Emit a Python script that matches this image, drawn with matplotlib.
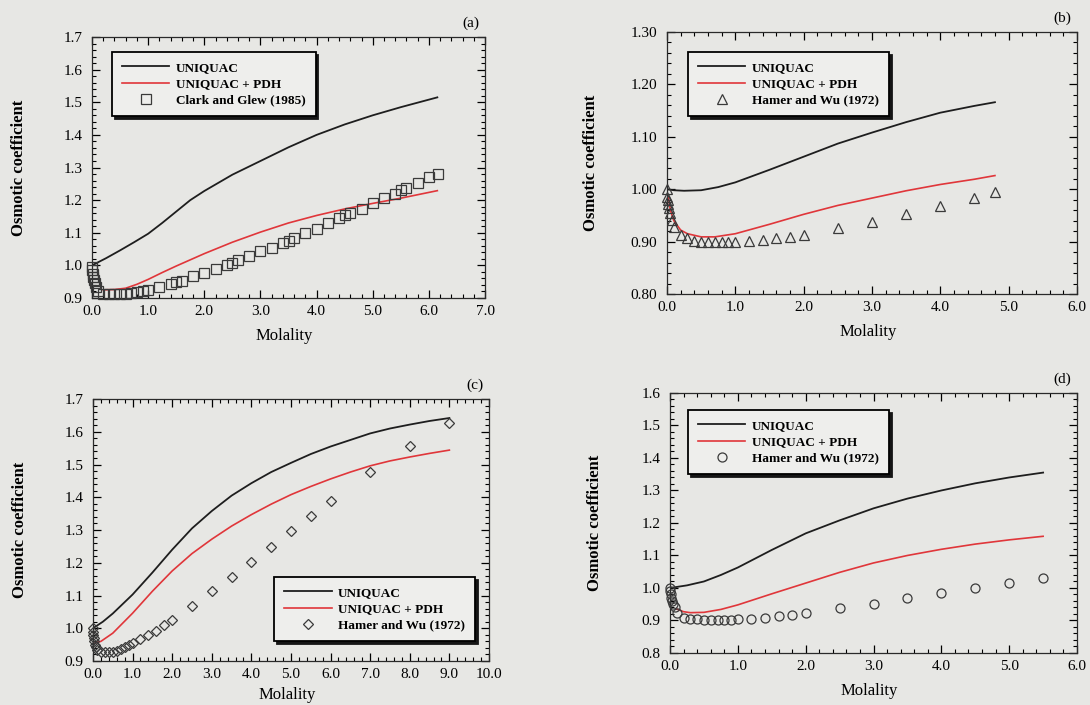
import matplotlib
matplotlib.use("Agg")
import matplotlib.pyplot as plt
from matplotlib.ticker import MultipleLocator, FormatStrFormatter


# =========================
# DATA
# =========================
# (a) Clark and Glew (1985)
a_model_m = [0.0, 0.25, 0.5, 0.75, 1.0, 1.25, 1.5, 1.75, 2.0, 2.5, 3.0, 3.5, 4.0, 4.5, 5.0, 5.5, 6.15]
a_uniquac = [1.0, 1.022, 1.046, 1.071, 1.097, 1.13, 1.165, 1.2, 1.228, 1.278, 1.32, 1.362, 1.40, 1.432, 1.46, 1.485, 1.515]
a_pdh_m = [0.2, 0.4, 0.6, 0.8, 1.0, 1.25, 1.5, 2.0, 2.5, 3.0, 3.5, 4.0, 4.5, 5.0, 5.5, 6.15]
a_pdh = [0.925, 0.926, 0.93, 0.942, 0.957, 0.978, 0.998, 1.036, 1.071, 1.102, 1.13, 1.153, 1.173, 1.19, 1.206, 1.229]
a_exp_m = [0.001, 0.005, 0.01, 0.02, 0.03, 0.05, 0.07, 0.1, 0.2, 0.3, 0.4, 0.5, 0.6, 0.7, 0.8,
           0.9, 1.0, 1.2, 1.4, 1.5, 1.6, 1.8, 2.0, 2.2, 2.4, 2.5, 2.6, 2.8, 3.0, 3.2, 3.4,
           3.5, 3.6, 3.8, 4.0, 4.2, 4.4, 4.5, 4.6, 4.8, 5.0, 5.2, 5.4, 5.5, 5.6, 5.8, 6.0, 6.17]
a_exp = [0.995, 0.985, 0.975, 0.965, 0.955, 0.945, 0.935, 0.923, 0.913, 0.912, 0.912, 0.912, 0.913, 0.915, 0.918,
         0.921, 0.926, 0.933, 0.943, 0.948, 0.953, 0.966, 0.977, 0.989, 1.0, 1.008, 1.015, 1.028, 1.043, 1.054, 1.068,
         1.074, 1.085, 1.10, 1.113, 1.129, 1.145, 1.154, 1.162, 1.174, 1.192, 1.207, 1.22, 1.23, 1.238, 1.254, 1.272, 1.28]

# (b) Hamer and Wu (1972), triangles
b_model_m = [0.0, 0.1, 0.25, 0.5, 0.75, 1.0, 1.5, 2.0, 2.5, 3.0, 3.5, 4.0, 4.5, 4.8]
b_uniquac = [1.0, 0.998, 0.997, 0.998, 1.004, 1.013, 1.037, 1.062, 1.087, 1.108, 1.128, 1.146, 1.159, 1.166]
b_pdh_m = [0.02, 0.05, 0.1, 0.2, 0.3, 0.5, 0.7, 1.0, 1.5, 2.0, 2.5, 3.0, 3.5, 4.0, 4.5, 4.8]
b_pdh = [0.985, 0.96, 0.94, 0.922, 0.915, 0.909, 0.909, 0.915, 0.933, 0.952, 0.969, 0.983, 0.997, 1.009, 1.019, 1.026]
b_exp_m = [0.001, 0.005, 0.01, 0.02, 0.03, 0.05, 0.07, 0.1, 0.2, 0.3, 0.4, 0.5, 0.6, 0.7, 0.8, 0.9, 1.0,
           1.2, 1.4, 1.6, 1.8, 2.0, 2.5, 3.0, 3.5, 4.0, 4.5, 4.8]
b_exp = [1.0, 0.986, 0.98, 0.972, 0.964, 0.954, 0.941, 0.928, 0.913, 0.906, 0.902, 0.90, 0.899, 0.899, 0.899, 0.899, 0.899,
         0.901, 0.903, 0.906, 0.909, 0.912, 0.925, 0.938, 0.952, 0.967, 0.983, 0.994]

# (c) Hamer and Wu (1972), diamonds
c_model_m = [0.0, 0.25, 0.5, 1.0, 1.5, 2.0, 2.5, 3.0, 3.5, 4.0, 4.5, 5.0, 5.5, 6.0, 6.5, 7.0, 7.5, 8.0, 8.5, 9.0]
c_uniquac = [1.0, 1.02, 1.045, 1.103, 1.17, 1.24, 1.305, 1.358, 1.405, 1.443, 1.477, 1.505, 1.532, 1.555,
             1.575, 1.595, 1.61, 1.622, 1.633, 1.642]
c_pdh_m = [0.05, 0.2, 0.5, 1.0, 1.5, 2.0, 2.5, 3.0, 3.5, 4.0, 4.5, 5.0, 5.5, 6.0, 6.5, 7.0, 7.5, 8.0, 8.5, 9.0]
c_pdh = [0.955, 0.96, 0.985, 1.046, 1.113, 1.175, 1.228, 1.272, 1.312, 1.347, 1.379, 1.408, 1.433, 1.456,
         1.477, 1.496, 1.511, 1.523, 1.534, 1.544]
c_exp_m = [0.001, 0.005, 0.01, 0.02, 0.03, 0.05, 0.07, 0.1, 0.2, 0.3, 0.4, 0.5, 0.6, 0.7, 0.8, 0.9, 1.0,
           1.2, 1.4, 1.6, 1.8, 2.0, 2.5, 3.0, 3.5, 4.0, 4.5, 5.0, 5.5, 6.0, 7.0, 8.0, 9.0]
c_exp = [1.0, 0.99, 0.98, 0.97, 0.96, 0.95, 0.942, 0.935, 0.928, 0.926, 0.926, 0.928, 0.932, 0.937, 0.942, 0.948, 0.955,
         0.967, 0.98, 0.993, 1.01, 1.025, 1.068, 1.113, 1.158, 1.203, 1.249, 1.297, 1.343, 1.39, 1.477, 1.556, 1.627]

# (d) Hamer and Wu (1972), circles
d_model_m = [0.0, 0.25, 0.5, 0.75, 1.0, 1.5, 2.0, 2.5, 3.0, 3.5, 4.0, 4.5, 5.0, 5.5]
d_uniquac = [1.0, 1.008, 1.02, 1.04, 1.063, 1.117, 1.168, 1.208, 1.245, 1.275, 1.30, 1.322, 1.34, 1.355]
d_pdh_m = [0.1, 0.2, 0.3, 0.5, 0.75, 1.0, 1.5, 2.0, 2.5, 3.0, 3.5, 4.0, 4.5, 5.0, 5.5]
d_pdh = [0.935, 0.927, 0.924, 0.925, 0.934, 0.948, 0.982, 1.015, 1.048, 1.077, 1.10, 1.119, 1.135, 1.148, 1.159]
d_exp_m = [0.001, 0.005, 0.01, 0.02, 0.03, 0.05, 0.07, 0.1, 0.2, 0.3, 0.4, 0.5, 0.6, 0.7, 0.8, 0.9, 1.0,
           1.2, 1.4, 1.6, 1.8, 2.0, 2.5, 3.0, 3.5, 4.0, 4.5, 5.0, 5.5]
d_exp = [1.0, 0.99, 0.98, 0.97, 0.96, 0.95, 0.94, 0.924, 0.908, 0.905, 0.903, 0.902, 0.901, 0.901, 0.901, 0.902, 0.903,
         0.906, 0.908, 0.913, 0.918, 0.924, 0.937, 0.952, 0.97, 0.985, 1.0, 1.015, 1.031]

BG = '#e7e7e4'
BLACK = '#1e1e1e'
RED = '#e0363a'

plt.rcParams['font.family'] = ['Liberation Serif', 'DejaVu Serif']


# =========================
# ONE PANEL
# =========================
def draw_panel(ax, tag, model_m, uniquac, pdh_m, pdh, exp_m, exp, marker, ms, exp_label,
               xlim, xmajor, ylim, ymajor, yfmt, leg_loc, leg_anchor, xlab_y=-0.115):
    ax.set_facecolor(BG)

    ax.plot(model_m, uniquac, color=BLACK, lw=1.3, label='UNIQUAC')
    ax.plot(pdh_m, pdh, color=RED, lw=1.2, label='UNIQUAC + PDH')
    ax.plot(exp_m, exp, ls='none', marker=marker, ms=ms, mfc='none',
            mec='#3a3a3a', mew=0.9, label=exp_label, clip_on=False, zorder=3)

    ax.set_xlim(*xlim)
    ax.set_ylim(*ylim)
    ax.xaxis.set_major_locator(MultipleLocator(xmajor))
    ax.xaxis.set_minor_locator(MultipleLocator(xmajor / 5))
    ax.yaxis.set_major_locator(MultipleLocator(ymajor))
    ax.yaxis.set_minor_locator(MultipleLocator(ymajor / 5))
    ax.xaxis.set_major_formatter(FormatStrFormatter('%.1f'))
    ax.yaxis.set_major_formatter(FormatStrFormatter(yfmt))

    ax.tick_params(which='both', direction='in', top=True, right=True, labelsize=11)
    ax.tick_params(which='major', length=6, width=0.9)
    ax.tick_params(which='minor', length=3, width=0.8)
    ax.tick_params(axis='x', pad=5)
    ax.tick_params(axis='y', pad=7)
    for s in ax.spines.values():
        s.set_linewidth(0.9)
        s.set_color('#2a2a2a')

    ax.set_xlabel('Molality', fontsize=12)
    ax.set_ylabel('Osmotic coefficient', fontsize=12, fontweight='bold')
    ax.xaxis.set_label_coords(0.49, xlab_y)
    ax.yaxis.set_label_coords(-0.165, 0.5)

    ax.text(0.985, 1.025, tag, transform=ax.transAxes, ha='right', va='bottom', fontsize=11)

    leg = ax.legend(loc=leg_loc, bbox_to_anchor=leg_anchor, borderaxespad=0,
                    prop={'weight': 'bold', 'size': 9.5}, fancybox=False, framealpha=1,
                    facecolor='#eeeeec', edgecolor='black', handlelength=3.6,
                    handletextpad=0.5, labelspacing=0.3, borderpad=0.75,
                    shadow={'color': '#151515', 'alpha': 1.0})
    leg.get_frame().set_linewidth(1.3)


# =========================
# MAIN
# =========================
fig = plt.figure(figsize=(10.9, 7.05), dpi=100, facecolor=BG)

ax_a = fig.add_axes([0.0844, 0.5773, 0.3606, 0.3702])
ax_b = fig.add_axes([0.6119, 0.5830, 0.3761, 0.3716])
ax_c = fig.add_axes([0.0853, 0.0624, 0.3633, 0.3716])
ax_d = fig.add_axes([0.6147, 0.0738, 0.3734, 0.3688])

draw_panel(ax_a, '(a)', a_model_m, a_uniquac, a_pdh_m, a_pdh, a_exp_m, a_exp, 's', 6.5,
           'Clark and Glew (1985)', (0, 7), 1.0, (0.9, 1.7), 0.1, '%.1f',
           'upper left', (0.051, 0.943))
draw_panel(ax_b, '(b)', b_model_m, b_uniquac, b_pdh_m, b_pdh, b_exp_m, b_exp, '^', 7,
           'Hamer and Wu (1972)', (0, 6), 1.0, (0.8, 1.3), 0.1, '%.2f',
           'upper left', (0.051, 0.924))
draw_panel(ax_c, '(c)', c_model_m, c_uniquac, c_pdh_m, c_pdh, c_exp_m, c_exp, 'D', 5.5,
           'Hamer and Wu (1972)', (0, 10), 1.0, (0.9, 1.7), 0.1, '%.1f',
           'lower right', (0.965, 0.075), xlab_y=-0.098)
draw_panel(ax_d, '(d)', d_model_m, d_uniquac, d_pdh_m, d_pdh, d_exp_m, d_exp, 'o', 6.5,
           'Hamer and Wu (1972)', (0, 6), 1.0, (0.8, 1.6), 0.1, '%.1f',
           'upper left', (0.044, 0.935))

fig.savefig('out.png', dpi=100, facecolor=BG)
